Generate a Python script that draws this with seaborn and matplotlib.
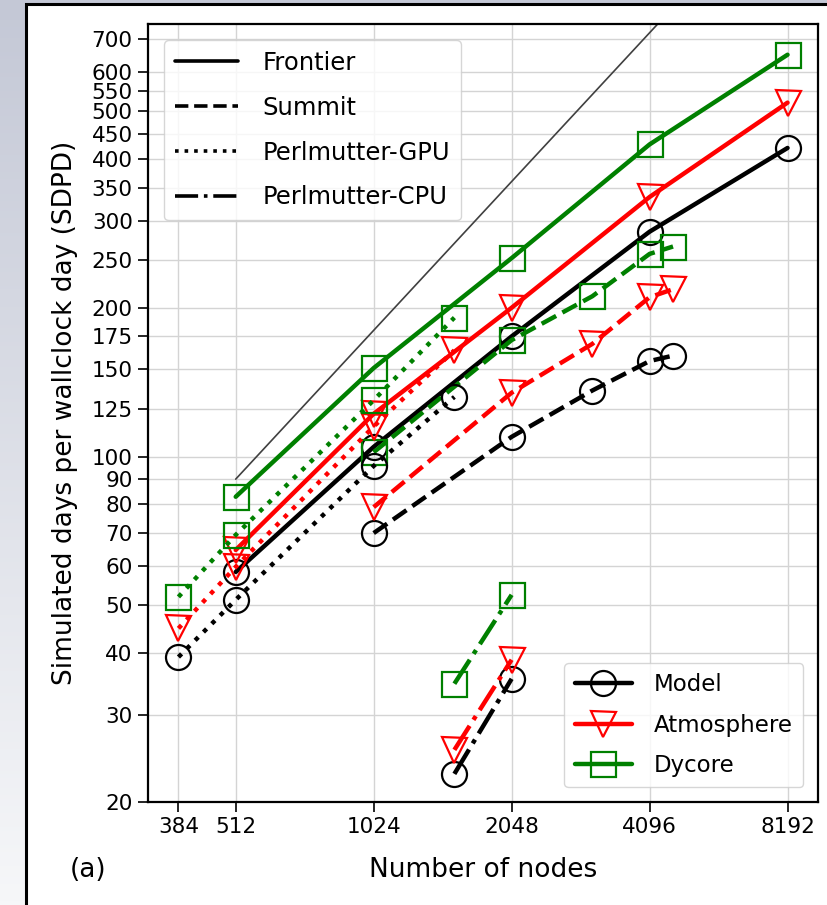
import numpy as np
import pandas as pd
import seaborn as sns
import matplotlib.pyplot as plt
import matplotlib.colors as mcolors
from matplotlib.lines import Line2D
from matplotlib.patches import Rectangle

# Data
machines = ['Frontier', 'Summit', 'Perlmutter-GPU', 'Perlmutter-CPU']
components = ['Model', 'Atmosphere', 'Dycore']

frontier_nodes = [512, 1024, 2048, 4096, 8192]
frontier_model = [58.4, 104.6, 175, 285, 421]
frontier_atm = [64.7, 122, 200, 335, 520]
frontier_dyc = [82.9, 151, 252, 428, 650]

summit_nodes = [1024, 2048, 3072, 4096, 4608]
summit_model = [70, 109.6, 136, 156, 160]
summit_atm = [79, 134.6, 169, 210, 218]
summit_dyc = [102, 172, 211, 257, 266]

pm_gpu_nodes = [384, 512, 1024, 1536]
pm_gpu_model = [39.3, 51.3, 95.7, 132]
pm_gpu_atm = [44.9, 59.8, 115, 164]
pm_gpu_dyc = [52, 69.4, 130, 191]

pm_cpu_nodes = [1536, 2048]
pm_cpu_model = [22.8, 35.5]
pm_cpu_atm = [25.5, 38.8]
pm_cpu_dyc = [34.7, 52.5]

ideal_nodes = [512, 16384]
ideal_start = 90

x_ticks = [384, 512, 1024, 2048, 4096, 8192]
y_ticks = [20, 30, 40, 50, 60, 70, 80, 90, 100, 125, 150, 175, 200, 250,
           300, 350, 400, 450, 500, 550, 600, 700]

rows = []
for mach, nodes, vals in [
        ('Frontier', frontier_nodes, [frontier_model, frontier_atm, frontier_dyc]),
        ('Summit', summit_nodes, [summit_model, summit_atm, summit_dyc]),
        ('Perlmutter-GPU', pm_gpu_nodes, [pm_gpu_model, pm_gpu_atm, pm_gpu_dyc]),
        ('Perlmutter-CPU', pm_cpu_nodes, [pm_cpu_model, pm_cpu_atm, pm_cpu_dyc])]:
    for comp, v in zip(components, vals):
        for n, s in zip(nodes, v):
            rows.append({'machine': mach, 'component': comp, 'nodes': n, 'sdpd': s})
df = pd.DataFrame(rows)

colors = {'Model': 'black', 'Atmosphere': 'red', 'Dycore': 'green'}
markers = {'Model': 'o', 'Atmosphere': 'v', 'Dycore': 's'}
styles = {'Frontier': '-', 'Summit': '--', 'Perlmutter-GPU': ':', 'Perlmutter-CPU': '-.'}

sns.set_style('ticks')
plt.rcParams['font.family'] = ['DejaVu Sans']
plt.rcParams.update({'text.color': 'black', 'axes.labelcolor': 'black',
                     'xtick.color': 'black', 'ytick.color': 'black'})

fig = plt.figure(figsize=(8.28, 9.05), dpi=100)

# slide-like background with a framed white page
bg = fig.add_axes([0, 0, 1, 1], zorder=-10)
grad = np.linspace(0, 1, 256).reshape(-1, 1)
bg_cmap = mcolors.LinearSegmentedColormap.from_list('bg', ['#c4c8d6', '#f6f7f9'])
bg.imshow(grad, aspect='auto', cmap=bg_cmap, extent=[0, 1, 0, 1])
bg.add_patch(Rectangle((26 / 828, -0.1), 1.1, 1.1 - 4.5 / 905, facecolor='white',
                       edgecolor='black', lw=2.2))
bg.set_xlim(0, 1)
bg.set_ylim(0, 1)
bg.axis('off')

ax = fig.add_axes([148 / 828, 1 - 802 / 905, (818 - 148) / 828, (802 - 24) / 905])

for mach in machines:
    for comp in components:
        sub = df[(df.machine == mach) & (df.component == comp)]
        sns.lineplot(data=sub, x='nodes', y='sdpd', ax=ax, color=colors[comp],
                     linestyle=styles[mach], marker=markers[comp], markersize=18,
                     mfc='none', mec=colors[comp], mew=1.6, lw=3.2,
                     errorbar=None, legend=False, zorder=3)

ax.set_xscale('log', base=2)
ax.set_yscale('log')
ax.autoscale_view()
ax.set_xlim(ax.get_xlim())
ax.set_ylim(20, 750)

# ideal scaling reference line
xmin = ideal_nodes[0]
ax.plot(ideal_nodes, [ideal_start * n / xmin for n in ideal_nodes],
        color='#404040', lw=1.2, zorder=1)

ax.set_xticks(x_ticks)
ax.set_xticklabels([str(t) for t in x_ticks])
ax.set_yticks(y_ticks)
ax.set_yticklabels([str(t) for t in y_ticks])
ax.minorticks_off()
ax.grid(True, color='#d4d4d4', lw=1.0)
ax.set_axisbelow(True)
ax.tick_params(labelsize=15.5, length=7, width=1.2, color='black', pad=4)
for s in ax.spines.values():
    s.set_color('black')
    s.set_linewidth(1.6)

ax.set_xlabel('Number of nodes', fontsize=19, labelpad=14)
ax.set_ylabel('Simulated days per wallclock day (SDPD)', fontsize=19, labelpad=10)
fig.text(88 / 828, 1 - 870 / 905, '(a)', fontsize=19, ha='center', va='center')

style_handles = [Line2D([], [], color='black', ls=styles[m], lw=2.6) for m in machines]
leg1 = ax.legend(style_handles, machines, loc='upper left', fontsize=17.5,
                 handlelength=2.6, handletextpad=1.0, borderpad=0.45,
                 labelspacing=0.86, borderaxespad=0.65)
ax.add_artist(leg1)

comp_handles = [Line2D([], [], color=colors[c], marker=markers[c], markersize=18,
                       mfc='none', mew=1.6, lw=3.2) for c in components]
ax.legend(comp_handles, components, loc='lower right', fontsize=16.5,
          handlelength=2.5, handletextpad=0.95, borderpad=0.45,
          labelspacing=0.75, borderaxespad=0.65)

plt.savefig('out.png', dpi=100)
